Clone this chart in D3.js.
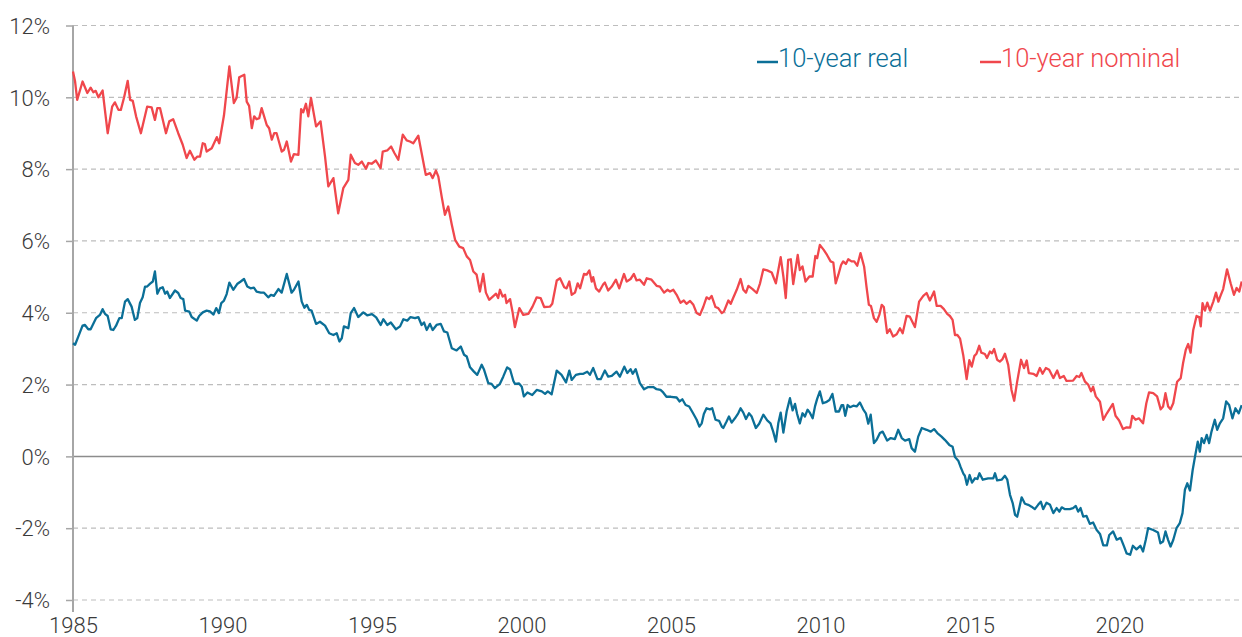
<!DOCTYPE html>
<html><head><meta charset="utf-8">
<script src="https://cdn.jsdelivr.net/npm/d3@7"></script>
<style>
html,body{margin:0;padding:0;background:#fff;}
svg text{font-family:Roboto,"Open Sans",sans-serif;font-weight:300;}
</style></head>
<body><svg id="chart" width="1242" height="637"></svg>
<script>
const seriesNames = ["10-year real", "10-year nominal"];
const seriesColors = ["#0b6f97", "#f0474c"];
const yTicks = [-4, -2, 0, 2, 4, 6, 8, 10, 12];
const xTicks = [1985, 1990, 1995, 2000, 2005, 2010, 2015, 2020];

const nominal = [
[1985.00,10.72],[1985.07,10.44],[1985.14,9.93],[1985.32,10.44],[1985.48,10.12],[1985.59,10.27],[1985.68,10.14],[1985.76,10.18],[1985.85,10.0],[1985.99,10.19],
[1986.16,9.0],[1986.31,9.74],[1986.40,9.86],[1986.52,9.65],[1986.60,9.65],[1986.71,10.0],[1986.83,10.46],[1986.91,9.93],[1987.00,9.9],[1987.11,9.47],
[1987.27,9.0],[1987.48,9.74],[1987.63,9.72],[1987.74,9.37],[1987.82,9.70],[1987.91,9.70],[1988.11,9.0],[1988.22,9.33],[1988.35,9.39],[1988.52,9.0],
[1988.67,8.68],[1988.80,8.31],[1988.91,8.51],[1989.06,8.26],[1989.16,8.35],[1989.25,8.35],[1989.34,8.72],[1989.41,8.7],[1989.47,8.49],[1989.64,8.58],
[1989.81,8.89],[1989.89,8.72],[1990.05,9.5],[1990.23,10.86],[1990.38,9.84],[1990.47,9.98],[1990.56,10.56],[1990.73,10.63],[1990.81,9.88],[1990.89,9.76],
[1990.98,9.14],[1991.06,9.47],[1991.14,9.39],[1991.23,9.42],[1991.31,9.70],[1991.48,9.23],[1991.56,9.14],[1991.65,8.82],[1991.73,9.0],[1991.81,9.0],
[1991.98,8.49],[1992.06,8.54],[1992.15,8.77],[1992.29,8.21],[1992.39,8.42],[1992.54,8.4],[1992.63,9.67],[1992.70,9.58],[1992.79,9.82],[1992.87,9.47],
[1992.96,9.98],[1993.13,9.19],[1993.28,9.33],[1993.43,8.35],[1993.54,7.52],[1993.71,7.75],[1993.87,6.77],[1994.04,7.47],[1994.21,7.70],[1994.29,8.40],
[1994.43,8.17],[1994.54,8.12],[1994.66,8.21],[1994.80,8.01],[1994.88,8.17],[1994.99,8.15],[1995.13,8.24],[1995.29,8.03],[1995.36,8.49],[1995.51,8.52],
[1995.64,8.63],[1995.75,8.45],[1995.88,8.26],[1996.03,8.96],[1996.16,8.80],[1996.27,8.77],[1996.38,8.72],[1996.55,8.93],[1996.66,8.45],[1996.80,7.84],
[1996.94,7.89],[1997.03,7.75],[1997.14,7.96],[1997.22,7.79],[1997.33,7.24],[1997.44,6.73],[1997.55,6.96],[1997.67,6.45],[1997.78,6.03],[1997.92,5.84],
[1998.05,5.80],[1998.17,5.57],[1998.28,5.47],[1998.39,5.15],[1998.50,5.06],[1998.61,4.59],[1998.72,5.08],[1998.81,4.56],[1998.92,4.36],[1999.04,4.45],
[1999.15,4.53],[1999.22,4.41],[1999.28,4.64],[1999.37,4.45],[1999.45,4.50],[1999.50,4.27],[1999.62,4.38],[1999.70,4.03],[1999.78,3.60],[1999.93,4.13],
[2000.06,3.94],[2000.23,3.97],[2000.37,4.17],[2000.51,4.43],[2000.64,4.41],[2000.76,4.16],[2000.95,4.17],[2001.03,4.25],[2001.18,4.90],[2001.29,4.96],
[2001.43,4.71],[2001.51,4.68],[2001.60,4.87],[2001.68,4.50],[2001.79,4.56],[2001.88,4.82],[2001.96,4.68],[2002.09,5.08],[2002.18,5.06],[2002.27,5.18],
[2002.35,4.87],[2002.40,4.99],[2002.49,4.68],[2002.60,4.59],[2002.74,4.80],[2002.79,4.84],[2002.90,4.62],[2003.02,4.73],[2003.16,4.92],[2003.27,4.68],
[2003.43,5.08],[2003.52,4.87],[2003.65,4.94],[2003.76,5.08],[2003.85,4.90],[2003.96,4.92],[2004.10,4.78],[2004.19,4.96],[2004.35,4.92],[2004.52,4.75],
[2004.63,4.73],[2004.77,4.56],[2004.88,4.64],[2004.97,4.59],[2005.08,4.64],[2005.19,4.50],[2005.32,4.28],[2005.43,4.34],[2005.52,4.25],[2005.64,4.33],
[2005.75,4.22],[2005.86,3.99],[2005.97,3.94],[2006.08,4.16],[2006.19,4.43],[2006.28,4.38],[2006.36,4.47],[2006.49,4.16],[2006.58,4.13],[2006.70,3.99],
[2006.77,4.03],[2006.92,4.34],[2007.00,4.25],[2007.08,4.41],[2007.20,4.64],[2007.33,4.94],[2007.42,4.64],[2007.51,4.56],[2007.59,4.75],[2007.73,4.66],
[2007.87,4.55],[2007.98,4.82],[2008.09,5.21],[2008.22,5.18],[2008.37,5.12],[2008.51,4.82],[2008.67,5.55],[2008.76,5.01],[2008.84,4.41],[2008.92,5.47],
[2009.01,5.49],[2009.09,4.80],[2009.24,5.61],[2009.31,5.19],[2009.40,5.29],[2009.50,4.87],[2009.63,5.01],[2009.74,5.01],[2009.83,5.58],[2009.89,5.52],
[2009.98,5.89],[2010.11,5.75],[2010.22,5.61],[2010.34,5.43],[2010.43,5.40],[2010.51,4.82],[2010.60,5.06],[2010.69,5.33],[2010.76,5.43],[2010.85,5.36],
[2010.93,5.49],[2011.04,5.43],[2011.13,5.43],[2011.23,5.31],[2011.34,5.66],[2011.46,5.29],[2011.54,4.73],[2011.62,4.22],[2011.69,4.19],[2011.79,3.85],
[2011.88,3.75],[2011.97,3.94],[2012.05,4.22],[2012.12,4.16],[2012.23,3.43],[2012.32,3.54],[2012.43,3.34],[2012.55,3.40],[2012.66,3.57],[2012.75,3.43],
[2012.88,3.91],[2012.99,3.89],[2013.16,3.60],[2013.30,4.31],[2013.44,4.47],[2013.55,4.55],[2013.66,4.34],[2013.80,4.59],[2013.89,4.19],[2014.02,4.19],
[2014.13,4.10],[2014.24,3.97],[2014.33,3.91],[2014.42,3.80],[2014.50,3.38],[2014.58,3.38],[2014.67,3.28],[2014.78,2.80],[2014.89,2.15],[2014.98,2.68],
[2015.06,2.50],[2015.15,2.80],[2015.22,2.86],[2015.31,3.08],[2015.38,2.89],[2015.50,2.85],[2015.57,2.74],[2015.67,2.92],[2015.74,2.87],[2015.81,2.99],
[2015.91,2.69],[2016.00,2.64],[2016.09,2.71],[2016.17,2.86],[2016.28,2.55],[2016.39,1.85],[2016.48,1.55],[2016.58,2.08],[2016.71,2.69],[2016.81,2.46],
[2016.90,2.67],[2016.97,2.32],[2017.12,2.30],[2017.23,2.24],[2017.34,2.46],[2017.43,2.30],[2017.54,2.46],[2017.65,2.41],[2017.79,2.18],[2017.92,2.39],
[2018.01,2.18],[2018.14,2.24],[2018.23,2.10],[2018.45,2.11],[2018.57,2.24],[2018.66,2.21],[2018.73,2.32],[2018.85,2.08],[2018.96,1.99],[2019.05,1.81],
[2019.12,1.94],[2019.21,1.67],[2019.35,1.52],[2019.46,1.02],[2019.58,1.20],[2019.78,1.46],[2019.87,1.13],[2019.99,1.00],[2020.12,0.76],[2020.24,0.81],
[2020.36,0.80],[2020.43,1.13],[2020.54,1.02],[2020.65,1.06],[2020.79,0.92],[2020.90,1.48],[2020.99,1.78],[2021.13,1.76],[2021.26,1.67],[2021.38,1.31],
[2021.46,1.39],[2021.54,1.76],[2021.63,1.39],[2021.71,1.31],[2021.80,1.48],[2021.93,2.08],[2022.05,2.18],[2022.13,2.60],[2022.22,2.97],[2022.30,3.13],
[2022.38,2.89],[2022.47,3.52],[2022.58,3.91],[2022.67,3.88],[2022.72,3.62],[2022.78,4.27],[2022.86,4.06],[2022.94,4.28],[2023.03,4.06],[2023.14,4.31],
[2023.23,4.56],[2023.31,4.31],[2023.38,4.47],[2023.47,4.66],[2023.60,5.21],[2023.72,4.82],[2023.83,4.50],[2023.92,4.69],[2024.01,4.59],[2024.09,4.87]
];

const real = [
[1985.00,3.15],[1985.07,3.11],[1985.18,3.34],[1985.32,3.64],[1985.40,3.66],[1985.51,3.54],[1985.59,3.54],[1985.77,3.85],[1985.90,3.94],[1985.99,4.10],
[1986.07,3.97],[1986.16,3.91],[1986.26,3.54],[1986.35,3.52],[1986.44,3.64],[1986.55,3.85],[1986.63,3.85],[1986.74,4.31],[1986.83,4.38],[1986.96,4.17],
[1987.07,3.80],[1987.15,3.85],[1987.24,4.27],[1987.33,4.43],[1987.41,4.73],[1987.48,4.73],[1987.58,4.81],[1987.67,4.87],[1987.74,5.15],[1987.82,4.53],
[1987.91,4.68],[1988.00,4.71],[1988.08,4.53],[1988.15,4.59],[1988.24,4.41],[1988.41,4.62],[1988.52,4.55],[1988.60,4.41],[1988.69,4.38],[1988.75,4.06],
[1988.89,4.03],[1988.97,3.88],[1989.14,3.78],[1989.22,3.91],[1989.34,4.01],[1989.47,4.06],[1989.58,4.04],[1989.70,3.95],[1989.79,4.13],[1989.88,3.99],
[1989.96,4.27],[1990.05,4.34],[1990.14,4.52],[1990.23,4.84],[1990.36,4.64],[1990.49,4.80],[1990.61,4.87],[1990.72,4.94],[1990.83,4.73],[1990.94,4.68],
[1991.05,4.70],[1991.14,4.59],[1991.28,4.56],[1991.39,4.56],[1991.53,4.43],[1991.62,4.50],[1991.72,4.47],[1991.87,4.66],[1991.98,4.56],[1992.15,5.08],
[1992.31,4.56],[1992.39,4.64],[1992.54,4.87],[1992.65,4.31],[1992.74,4.14],[1992.82,4.22],[1992.90,4.08],[1992.98,4.06],[1993.13,3.69],[1993.26,3.75],
[1993.43,3.64],[1993.57,3.43],[1993.71,3.38],[1993.82,3.43],[1993.91,3.20],[1993.99,3.29],[1994.06,3.62],[1994.21,3.57],[1994.29,3.99],[1994.40,4.13],
[1994.54,3.88],[1994.71,4.01],[1994.84,3.93],[1995.00,3.96],[1995.14,3.87],[1995.29,3.66],[1995.38,3.82],[1995.51,3.66],[1995.63,3.73],[1995.80,3.54],
[1995.94,3.62],[1996.05,3.82],[1996.18,3.78],[1996.29,3.88],[1996.44,3.85],[1996.55,3.88],[1996.66,3.66],[1996.74,3.73],[1996.83,3.52],[1996.94,3.69],
[1997.03,3.52],[1997.16,3.66],[1997.30,3.69],[1997.41,3.48],[1997.52,3.45],[1997.67,3.01],[1997.83,2.95],[1997.97,3.06],[1998.08,2.83],[1998.17,2.78],
[1998.28,2.48],[1998.41,2.36],[1998.52,2.27],[1998.67,2.55],[1998.75,2.41],[1998.89,2.04],[1999.00,2.02],[1999.11,1.90],[1999.28,2.02],[1999.39,2.22],
[1999.52,2.48],[1999.62,2.42],[1999.73,2.10],[1999.78,2.02],[1999.92,2.03],[2000.01,1.94],[2000.08,1.67],[2000.20,1.78],[2000.36,1.71],[2000.51,1.85],
[2000.68,1.81],[2000.79,1.74],[2000.88,1.81],[2001.01,1.73],[2001.18,2.39],[2001.34,2.27],[2001.49,2.06],[2001.60,2.39],[2001.68,2.13],[2001.82,2.27],
[2001.96,2.30],[2002.07,2.30],[2002.20,2.36],[2002.29,2.27],[2002.40,2.46],[2002.54,2.15],[2002.65,2.15],[2002.79,2.39],[2002.90,2.22],[2003.02,2.24],
[2003.18,2.36],[2003.29,2.22],[2003.44,2.50],[2003.54,2.32],[2003.65,2.43],[2003.72,2.30],[2003.82,2.43],[2003.96,2.04],[2004.10,1.87],[2004.24,1.93],
[2004.41,1.93],[2004.52,1.87],[2004.65,1.85],[2004.74,1.78],[2004.85,1.66],[2005.00,1.66],[2005.19,1.64],[2005.29,1.53],[2005.38,1.59],[2005.49,1.43],
[2005.61,1.39],[2005.74,1.20],[2005.86,1.02],[2005.95,0.83],[2006.03,0.92],[2006.10,1.18],[2006.19,1.34],[2006.30,1.31],[2006.38,1.34],[2006.49,1.02],
[2006.61,0.99],[2006.70,0.83],[2006.75,0.79],[2006.86,0.97],[2006.94,1.11],[2007.03,0.94],[2007.14,1.06],[2007.25,1.20],[2007.33,1.34],[2007.42,1.22],
[2007.51,1.04],[2007.61,1.20],[2007.70,1.11],[2007.84,0.79],[2007.95,0.91],[2008.09,1.16],[2008.22,1.00],[2008.33,0.92],[2008.42,0.69],[2008.51,0.41],
[2008.59,0.92],[2008.67,1.22],[2008.76,0.66],[2008.87,1.25],[2008.98,1.62],[2009.07,1.28],[2009.15,1.46],[2009.22,1.18],[2009.31,0.92],[2009.40,1.20],
[2009.48,1.11],[2009.57,1.30],[2009.65,1.21],[2009.74,1.06],[2009.82,1.40],[2009.89,1.60],[2009.98,1.81],[2010.08,1.48],[2010.21,1.52],[2010.30,1.57],
[2010.40,1.74],[2010.51,1.25],[2010.62,1.25],[2010.71,1.43],[2010.76,1.43],[2010.83,1.13],[2010.91,1.43],[2010.99,1.37],[2011.10,1.41],[2011.21,1.39],
[2011.32,1.50],[2011.43,1.31],[2011.52,1.20],[2011.60,0.91],[2011.68,1.16],[2011.79,0.37],[2011.88,0.46],[2011.99,0.65],[2012.08,0.69],[2012.23,0.44],
[2012.35,0.51],[2012.49,0.48],[2012.60,0.74],[2012.72,0.51],[2012.83,0.44],[2012.97,0.48],[2013.05,0.23],[2013.16,0.13],[2013.27,0.55],[2013.39,0.79],
[2013.55,0.74],[2013.69,0.69],[2013.80,0.76],[2013.91,0.65],[2014.05,0.55],[2014.16,0.46],[2014.31,0.32],[2014.42,0.27],[2014.50,-0.02],[2014.61,-0.12],
[2014.69,-0.30],[2014.78,-0.48],[2014.83,-0.54],[2014.90,-0.79],[2014.99,-0.52],[2015.07,-0.73],[2015.17,-0.61],[2015.25,-0.63],[2015.32,-0.47],[2015.43,-0.65],
[2015.61,-0.61],[2015.78,-0.61],[2015.84,-0.47],[2015.91,-0.67],[2016.06,-0.65],[2016.17,-0.54],[2016.25,-0.65],[2016.34,-1.07],[2016.43,-1.30],[2016.51,-1.63],
[2016.58,-1.68],[2016.65,-1.44],[2016.73,-1.14],[2016.84,-1.32],[2016.95,-1.35],[2017.06,-1.40],[2017.17,-1.47],[2017.28,-1.35],[2017.37,-1.26],[2017.45,-1.47],
[2017.56,-1.29],[2017.68,-1.35],[2017.79,-1.58],[2017.90,-1.44],[2017.99,-1.54],[2018.07,-1.42],[2018.18,-1.47],[2018.34,-1.47],[2018.45,-1.44],[2018.54,-1.38],
[2018.62,-1.54],[2018.70,-1.44],[2018.79,-1.68],[2018.90,-1.66],[2019.01,-1.88],[2019.12,-1.84],[2019.24,-2.05],[2019.35,-2.16],[2019.46,-2.48],[2019.58,-2.48],
[2019.66,-2.19],[2019.79,-2.09],[2019.91,-2.32],[2020.04,-2.27],[2020.15,-2.50],[2020.24,-2.70],[2020.36,-2.74],[2020.45,-2.49],[2020.57,-2.59],[2020.70,-2.49],
[2020.79,-2.65],[2020.88,-2.33],[2020.96,-2.00],[2021.13,-2.05],[2021.29,-2.12],[2021.37,-2.42],[2021.46,-2.37],[2021.54,-2.09],[2021.63,-2.33],[2021.71,-2.51],
[2021.80,-2.33],[2021.91,-2.00],[2022.02,-1.86],[2022.11,-1.58],[2022.19,-0.93],[2022.27,-0.75],[2022.36,-0.95],[2022.45,-0.38],[2022.53,0.0],[2022.62,0.41],
[2022.69,0.13],[2022.75,0.51],[2022.83,0.37],[2022.92,0.60],[2023.00,0.37],[2023.08,0.69],[2023.19,1.02],[2023.27,0.74],[2023.36,0.92],[2023.47,1.06],
[2023.57,1.53],[2023.67,1.43],[2023.78,1.06],[2023.88,1.34],[2023.99,1.20],[2024.09,1.43]
];

const svg = d3.select("#chart");
const W = 1242, H = 637;
const m = {left: 73, right: 0, top: 25.5, bottom: 37};
const x = d3.scaleLinear().domain([1985, 2024.1]).range([m.left, W - m.right]);
const y = d3.scaleLinear().domain([-4, 12]).range([H - m.bottom, m.top]);

// gridlines
svg.append("g").selectAll("line").data(yTicks).join("line")
  .attr("x1", m.left).attr("x2", W)
  .attr("y1", d => y(d)).attr("y2", d => y(d))
  .attr("stroke", d => d === 0 ? "#8c8c8c" : "#bdbdbd")
  .attr("stroke-width", d => d === 0 ? 1.5 : 1.2)
  .attr("stroke-dasharray", d => d === 0 ? null : "5,4");

// y axis
const yAxis = d3.axisLeft(y).tickValues(yTicks).tickFormat(d => d + "%").tickSize(7).tickPadding(16);
const gy = svg.append("g").attr("transform", `translate(${m.left},0)`).call(yAxis);
gy.select(".domain").remove();
gy.selectAll(".tick line").attr("stroke", "#a6a6a6").attr("stroke-width", 1.5);
gy.selectAll(".tick text").attr("fill", "#3a3a3a").attr("font-size", 22).attr("font-weight", 300).attr("dy", "0.35em");
svg.append("line").attr("x1", m.left).attr("x2", m.left).attr("y1", y(12)).attr("y2", y(-4) + 12)
  .attr("stroke", "#a6a6a6").attr("stroke-width", 2);

// x axis
const xAxis = d3.axisBottom(x).tickValues(xTicks).tickFormat(d3.format("d")).tickSize(0).tickPadding(17);
const gx = svg.append("g").attr("transform", `translate(0,${y(-4)})`).call(xAxis);
gx.select(".domain").remove();
gx.selectAll(".tick text").attr("fill", "#3a3a3a").attr("font-size", 22).attr("font-weight", 300);

// lines
const line = d3.line().x(d => x(d[0])).y(d => y(d[1]));
[real, nominal].forEach((data, i) => {
  svg.append("path").datum(data).attr("d", line)
    .attr("fill", "none").attr("stroke", seriesColors[i])
    .attr("stroke-width", 2.3).attr("stroke-linejoin", "round");
});

// legend
const legendX = [757, 980];
seriesNames.forEach((name, i) => {
  const g = svg.append("g").attr("transform", `translate(${legendX[i]},58)`);
  g.append("line").attr("x1", 0).attr("x2", 21).attr("y1", 4).attr("y2", 4)
    .attr("stroke", seriesColors[i]).attr("stroke-width", 2.5);
  g.append("text").attr("x", 21).attr("y", 0).attr("dy", "0.35em")
    .attr("fill", seriesColors[i]).attr("font-size", 25.5).attr("font-weight", 300).text(name);
});
</script></body></html>
